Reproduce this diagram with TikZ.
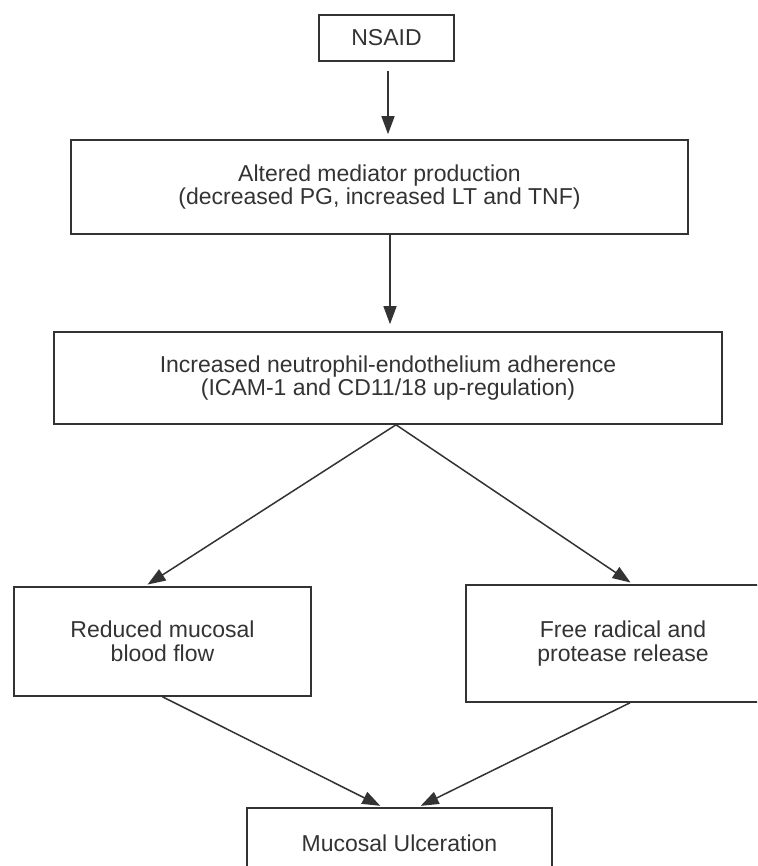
\documentclass[tikz,border=0pt]{standalone}
\usepackage{fontspec}
\setmainfont{Liberation Sans}
\usetikzlibrary{arrows.meta,positioning}

\begin{document}
\begin{tikzpicture}[
    x=1pt, y=1pt,
    % --- Node styles ---
    box/.style={draw=black!80, line width=1.6pt, rectangle, align=center,
                text=black!80, font=\fontsize{23}{23.5}\selectfont,
                inner sep=0pt},
    % --- Edge styles ---
    flow/.style={-{Triangle[length=18pt, width=13pt]}, line width=1.5pt,
                 draw=black!80},
]

% picture frame, as in the scan (boxes run off the edge)
\clip (0,0) rectangle (757,866);

% === Boxes ===
\node[box, minimum width=135pt, minimum height=46pt] (nsaid) at (386.5,828) {NSAID};
\node[box, minimum width=617pt, minimum height=94pt] (altered) at (379.5,679)
  {Altered mediator production\\(decreased PG, increased LT and TNF)};
\node[box, minimum width=668pt, minimum height=92pt] (adhere) at (388,488)
  {Increased neutrophil-endothelium adherence\\(ICAM-1 and CD11/18 up-regulation)};
\node[box, minimum width=297pt, minimum height=109pt] (bloodflow) at (162.5,224.5)
  {Reduced mucosal\\blood flow};
\node[box, minimum width=314pt, minimum height=117pt] (radical) at (623,222.5)
  {Free radical and\\protease release};
\node[box, minimum width=305pt, minimum height=70pt] (ulcer) at (399.5,23)
  {Mucosal Ulceration};

% === Arrows ===
\draw[flow, shorten <=9pt, shorten >=5pt] ([xshift=1.5pt]nsaid.south) -- ([xshift=8.5pt]altered.north);
\draw[flow, shorten >=7pt] ([xshift=10.5pt]altered.south) -- ([xshift=2pt]adhere.north);
% branch out
\draw[flow, shorten >=3pt] ([xshift=8pt]adhere.south) -- ([xshift=-17.5pt]bloodflow.north);
\draw[flow, shorten >=3pt] ([xshift=8pt]adhere.south) -- ([xshift=10pt]radical.north);
% join again
\draw[flow, shorten >=3pt] (bloodflow.south) -- ([xshift=-16.5pt]ulcer.north);
\draw[flow, shorten >=3pt] ([xshift=7pt]radical.south) -- ([xshift=18.5pt]ulcer.north);

\end{tikzpicture}
\end{document}
